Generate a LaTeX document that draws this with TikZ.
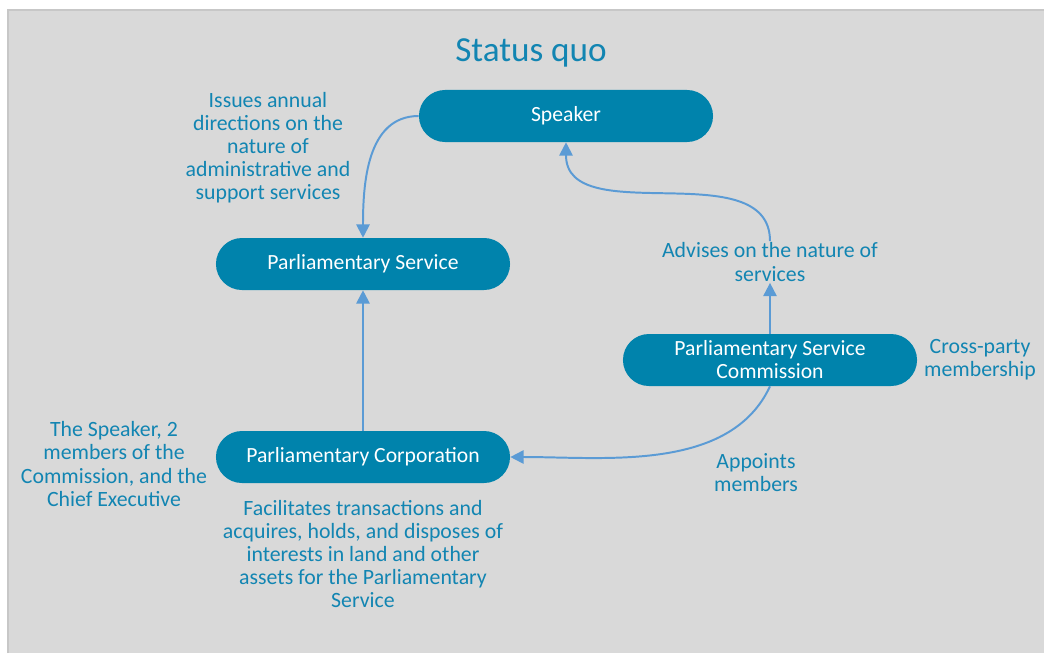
\documentclass[tikz,border=0pt]{standalone}
\usepackage{fontspec}
\setmainfont{Carlito}
\usepackage{xcolor}
\usepackage{tikz}
\usetikzlibrary{arrows.meta}
\definecolor{boxblue}{RGB}{0,131,172}
\definecolor{labelblue}{RGB}{18,133,178}
\definecolor{linkblue}{RGB}{91,155,213}
\definecolor{panel}{RGB}{217,217,217}
\tikzstyle{block} = [rectangle, rounded corners=0.65cm, minimum width=7.35cm, minimum height=1.3cm, text centered, fill=boxblue, text=white, font=\fontsize{15.4}{16.4}\selectfont, align=center]
\tikzstyle{note} = [text=labelblue, font=\fontsize{15.5}{16.4}\selectfont, align=center, inner sep=1pt]
\tikzstyle{arrow} = [draw=linkblue, line width=1.4pt, -{Triangle[length=9.5pt,width=9.5pt]}]

\begin{document}
\begin{tikzpicture}[x=0.025cm, y=-0.025cm]
   \useasboundingbox (0,0) rectangle (1044,653);
   \fill[panel] (8,10) rectangle (1044,653);
   \draw[black!22, line width=0.8pt] (8,653) -- (8,10) -- (1044,10);
   \node (title) [text=labelblue, font=\fontsize{25}{30}\selectfont] at (531,53) {Status quo};
   % boxes
   \node (speaker) [block] at (566,116) {Speaker};
   \node (parlservice) [block] at (363,264) {Parliamentary Service};
   \node (commission) [block] at (770,360) {Parliamentary Service\\Commission};
   \node (corporation) [block] at (363,457) {Parliamentary Corporation};
   % notes
   \node (directions) [note] at (268,148) {Issues annual\\directions on the\\nature of\\administrative and\\support services};
   \node (advises) [note] at (770,262) {Advises on the nature of\\services};
   \node (crossparty) [note] at (980,360) {Cross-party\\membership};
   \node (appoints) [note] at (756,473) {Appoints\\members};
   \node (members) [note] at (114,464) {The Speaker, 2\\members of the\\Commission, and the\\Chief Executive};
   \node (facilitates) [note] at (363,554) {Facilitates transactions and\\acquires, holds, and disposes of\\interests in land and other\\assets for the Parliamentary\\Service};
   % links
   \draw [arrow] (speaker.west) to[out=180,in=90] (parlservice.north);
   \draw [arrow] (corporation.north) -- (parlservice.south);
   \draw [arrow] (commission.north) -- (advises.south);
   \draw [arrow] (advises.north) to[out=90,in=-90] (speaker.south);
   \draw [arrow] (commission.south) to[out=-115,in=0,looseness=0.9] (corporation.east);
\end{tikzpicture}
\end{document}
